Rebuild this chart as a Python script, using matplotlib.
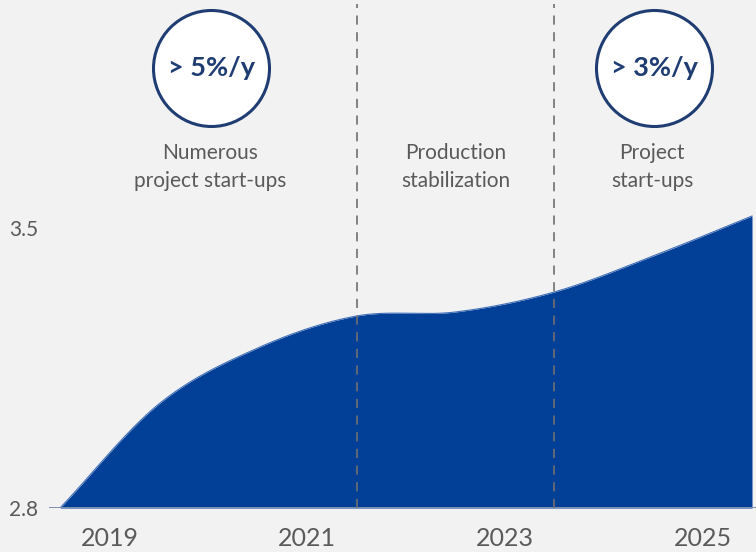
import numpy as np
import matplotlib
matplotlib.use("Agg")
import matplotlib.pyplot as plt

# Production index (mid-year points)
years = [2018.5, 2019.5, 2020.5, 2021.5, 2022.5, 2023.5, 2024.5, 2025.5]
values = [2.80, 3.06, 3.20, 3.28, 3.29, 3.34, 3.43, 3.53]

x_ticks = [2019, 2021, 2023, 2025]
x_tick_labels = ["2019", "2021", "2023", "2025"]
y_ticks = [2.8, 3.5]
y_tick_labels = ["2.8", "3.5"]

phase_bounds = [2021.5, 2023.5]
phase_label_x = [2020.02, 2022.5, 2024.49]
phase_labels = [("Numerous", "project start-ups"),
                ("Production", "stabilization"),
                ("Project", "start-ups")]
badge_x = [2020.03, 2024.51]
badge_text = ["> 5%/y", "> 3%/y"]

BG = "#f2f2f2"
AREA = "#023f97"
NAVY = "#1f3d72"
GREY = "#5a5a5a"
FONT = ["Lato", "DejaVu Sans"]


def smooth(x, y, n=40):
    """Catmull-Rom curve through the given points, end tangents along the chords."""
    x = np.asarray(x, float)
    y = np.asarray(y, float)
    px = np.concatenate([[2 * x[0] - x[1]], x, [2 * x[-1] - x[-2]]])
    py = np.concatenate([[2 * y[0] - y[1]], y, [2 * y[-1] - y[-2]]])
    xs, ys = [], []
    t = np.linspace(0, 1, n, endpoint=False)
    for i in range(1, len(px) - 2):
        p0, p1, p2, p3 = (np.array([px[j], py[j]]) for j in (i - 1, i, i + 1, i + 2))
        pts = 0.5 * ((2 * p1)[:, None]
                     + (-p0 + p2)[:, None] * t
                     + (2 * p0 - 5 * p1 + 4 * p2 - p3)[:, None] * t ** 2
                     + (-p0 + 3 * p1 - 3 * p2 + p3)[:, None] * t ** 3)
        xs.extend(pts[0])
        ys.extend(pts[1])
    xs.append(x[-1])
    ys.append(y[-1])
    return np.array(xs), np.array(ys)


fig = plt.figure(figsize=(7.56, 5.52), dpi=100, facecolor=BG)
ax = fig.add_axes([49 / 756, 44 / 552, (756 - 49) / 756, 508 / 552])
ax.set_facecolor(BG)

ppy = (752 - 60) / 7.0
ax.set_xlim(years[0] - 11 / ppy, years[0] + (756 - 60) / ppy)
ax.set_ylim(2.8, 2.8 + 508 / 400)

sx, sy = smooth(years, values)
ax.fill_between(sx, 2.8, sy, color=AREA, linewidth=0, zorder=2)
ax.plot(sx, sy, color="#3f6fb8", linewidth=0.8, zorder=2.5)

# baseline
ax.axhline(2.8, color="#7f90ad", linewidth=1.4, zorder=3)

# phase separators
ax.vlines(phase_bounds, 2.8, 4.06, colors="#707070", linewidth=1.2,
          linestyles=(0, (5.5, 4.5)), zorder=4)

for s in ax.spines.values():
    s.set_visible(False)

ax.set_xticks(x_ticks)
ax.set_xticklabels(x_tick_labels, fontsize=18, color=GREY, family=FONT)
ax.set_yticks(y_ticks)
ax.set_yticklabels(y_tick_labels, fontsize=15, color=GREY, family=FONT)
ax.tick_params(axis="x", length=0, pad=14)
ax.tick_params(axis="y", length=0, pad=8)

# phase descriptions
for xc, (l1, l2) in zip(phase_label_x, phase_labels):
    ax.text(xc, 3.6875, l1, ha="center", va="center", fontsize=15,
            color=GREY, family=FONT, zorder=5)
    ax.text(xc, 3.6175, l2, ha="center", va="center", fontsize=15,
            color=GREY, family=FONT, zorder=5)

# growth-rate badges
ax.scatter(badge_x, [3.9, 3.9], s=(116 * 0.72) ** 2, facecolor="white",
           edgecolor=NAVY, linewidth=2.2, zorder=5, clip_on=False)
for xc, t in zip(badge_x, badge_text):
    ax.text(xc, 3.9, t, ha="center", va="center", fontsize=19.5,
            fontweight="bold", color=NAVY, family=FONT, zorder=6)

fig.savefig("out.png", dpi=100, facecolor=BG)
